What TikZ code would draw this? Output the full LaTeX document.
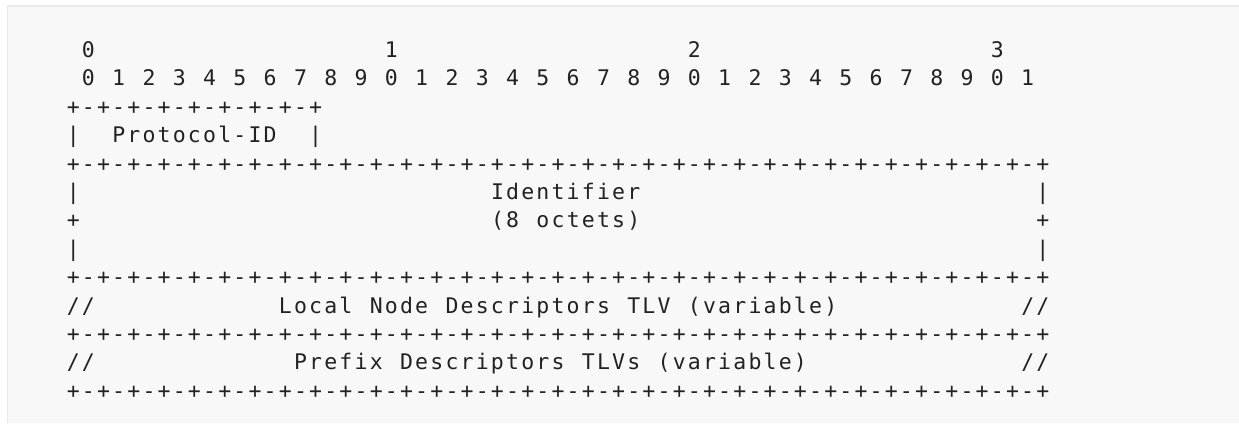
\documentclass[tikz,border=0pt]{standalone}
\usepackage{fontspec}
\setmonofont{DejaVu Sans Mono}
\definecolor{panelbg}{HTML}{F8F8F8}
\definecolor{paneledge}{HTML}{EAEAEA}
\definecolor{ink}{HTML}{222222}

% one fixed-width cell per character
\ExplSyntaxOn
\NewDocumentCommand\cells{m}{\str_map_inline:nn{#1}{\makebox[15.15pt]{##1}}}
\ExplSyntaxOff

% \seg{row}{column}{text}
\newcommand{\seg}[3]{\node[txt] (r#1c#2) at ({65.5+#2*15.15},{-(57.5+(#1-1)*28.4)}) {\cells{#3}};}

\begin{document}
\begin{tikzpicture}[
    x=1pt, y=1pt,
    txt/.style={font=\ttfamily\fontsize{21.5}{21.5}\selectfont, text=ink,
                inner sep=0pt, anchor=base west}
  ]
  \useasboundingbox (0,0) rectangle (1239,-423);
  \fill[white] (0,0) rectangle (1239,-423);
  \fill[panelbg] (7.5,-6) rectangle (1239,-423);
  \draw[paneledge, line width=1.5pt] (1239,-6) -- (7.5,-6) -- (7.5,-423);

  % bit numbers
  \seg{1}{1}{0}
  \seg{1}{21}{1}
  \seg{1}{41}{2}
  \seg{1}{61}{3}
  \seg{2}{1}{0 1 2 3 4 5 6 7 8 9 0 1 2 3 4 5 6 7 8 9 0 1 2 3 4 5 6 7 8 9 0 1}

  % Protocol-ID
  \seg{3}{0}{+-+-+-+-+-+-+-+-+}
  \seg{4}{0}{|}
  \seg{4}{3}{Protocol-ID}
  \seg{4}{16}{|}
  \seg{5}{0}{+-+-+-+-+-+-+-+-+-+-+-+-+-+-+-+-+-+-+-+-+-+-+-+-+-+-+-+-+-+-+-+-+}

  % Identifier
  \seg{6}{0}{|}
  \seg{6}{28}{Identifier}
  \seg{6}{64}{|}
  \seg{7}{0}{+}
  \seg{7}{28}{(8 octets)}
  \seg{7}{64}{+}
  \seg{8}{0}{|}
  \seg{8}{64}{|}
  \seg{9}{0}{+-+-+-+-+-+-+-+-+-+-+-+-+-+-+-+-+-+-+-+-+-+-+-+-+-+-+-+-+-+-+-+-+}

  % descriptors
  \seg{10}{0}{//}
  \seg{10}{14}{Local Node Descriptors TLV (variable)}
  \seg{10}{63}{//}
  \seg{11}{0}{+-+-+-+-+-+-+-+-+-+-+-+-+-+-+-+-+-+-+-+-+-+-+-+-+-+-+-+-+-+-+-+-+}
  \seg{12}{0}{//}
  \seg{12}{15}{Prefix Descriptors TLVs (variable)}
  \seg{12}{63}{//}
  \seg{13}{0}{+-+-+-+-+-+-+-+-+-+-+-+-+-+-+-+-+-+-+-+-+-+-+-+-+-+-+-+-+-+-+-+-+}
\end{tikzpicture}
\end{document}
